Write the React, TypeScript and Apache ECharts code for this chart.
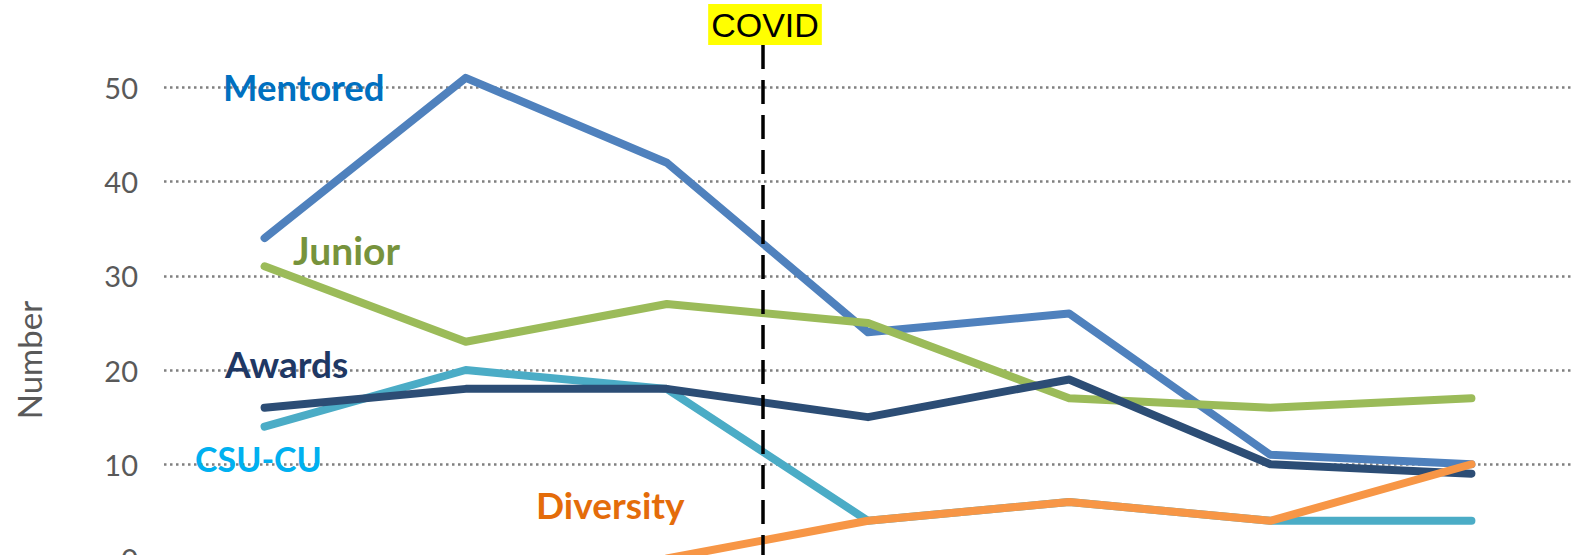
import React, { useEffect, useRef } from "react";
import * as echarts from "echarts";

const years = ["2017", "2018", "2019", "2020", "2021", "2022", "2023"];
const mentored = [34, 51, 42, 24, 26, 11, 10];
const junior = [31, 23, 27, 25, 17, 16, 17];
const csuCu = [14, 20, 18, 4, 6, 4, 4];
const awards = [16, 18, 18, 15, 19, 10, 9];
const diversity = [null, null, 0, 4, 6, 4, 10];
const yMin = 0;
const yMax = 50;
const yStep = 10;

const seriesDefs = [
  { name: "Mentored", data: mentored, color: "#4F81BD" },
  { name: "Junior", data: junior, color: "#9BBB59" },
  { name: "CSU-CU", data: csuCu, color: "#4BACC6" },
  { name: "Awards", data: awards, color: "#2C4D75" },
  { name: "Diversity", data: diversity, color: "#F79646" },
];

const labelDefs = [
  { text: "Mentored", x: 223, y: 87, size: 36.5, color: "#0070C0" },
  { text: "Junior", x: 293, y: 249.5, size: 39, color: "#77933C" },
  { text: "Awards", x: 225, y: 363.5, size: 37, color: "#1F3864" },
  { text: "CSU-CU", x: 195, y: 458.5, size: 34, color: "#00B0F0" },
  { text: "Diversity", x: 536, y: 504.5, size: 37, color: "#E46C0A" },
];

export default function App() {
  const ref = useRef<HTMLDivElement>(null);
  useEffect(() => {
    if (!ref.current) return;
    const chart = echarts.init(ref.current, null, { renderer: "svg" });
    chart.setOption({
      animation: false,
      backgroundColor: "#ffffff",
      grid: {
        left: 164,
        right: 8,
        top: 87.3,
        bottom: -3.5,
        containLabel: false,
        outerBoundsMode: "none",
      },
      xAxis: {
        type: "category",
        data: years,
        boundaryGap: true,
        axisLine: { show: false },
        axisTick: { show: false },
        axisLabel: { show: false },
      },
      yAxis: {
        type: "value",
        min: yMin,
        max: yMax,
        interval: yStep,
        axisLine: { show: false },
        axisTick: { show: false },
        axisLabel: {
          color: "#595959",
          fontSize: 29,
          fontFamily: "Lato",
          margin: 26,
        },
        splitLine: {
          show: true,
          lineStyle: { color: "#808080", width: 2.5, type: [2.5, 3.5] },
        },
      },
      series: seriesDefs.map((s) => ({
        name: s.name,
        type: "line",
        data: s.data,
        symbol: "none",
        clip: false,
        connectNulls: false,
        lineStyle: { color: s.color, width: 8, cap: "round", join: "round" },
        itemStyle: { color: s.color },
      })),
      graphic: [
        {
          type: "text",
          x: 29,
          y: 360,
          rotation: Math.PI / 2,
          style: {
            text: "Number",
            fill: "#595959",
            font: "33px Lato",
            textAlign: "center",
            textVerticalAlign: "middle",
          },
        },
        ...labelDefs.map((l) => ({
          type: "text",
          x: l.x,
          y: l.y,
          z: 50,
          style: {
            text: l.text,
            fill: l.color,
            font: `bold ${l.size}px Lato`,
            textAlign: "left",
            textVerticalAlign: "middle",
          },
        })),
        {
          type: "line",
          z: 60,
          shape: { x1: 763, y1: 45, x2: 763, y2: 560 },
          style: { stroke: "#000000", lineWidth: 3.5, lineDash: [24, 11] },
        },
        {
          type: "text",
          x: 765,
          y: 24.5,
          z: 61,
          style: {
            text: "COVID",
            fill: "#000000",
            font: "34px 'Liberation Sans'",
            textAlign: "center",
            textVerticalAlign: "middle",
            backgroundColor: "#FFFF00",
            padding: [4, 3, 3, 3],
          },
        },
      ],
    });
    return () => chart.dispose();
  }, []);
  return (
    <div
      ref={ref}
      style={{ position: "absolute", left: 0, top: 0, width: 1580, height: 555 }}
    />
  );
}
